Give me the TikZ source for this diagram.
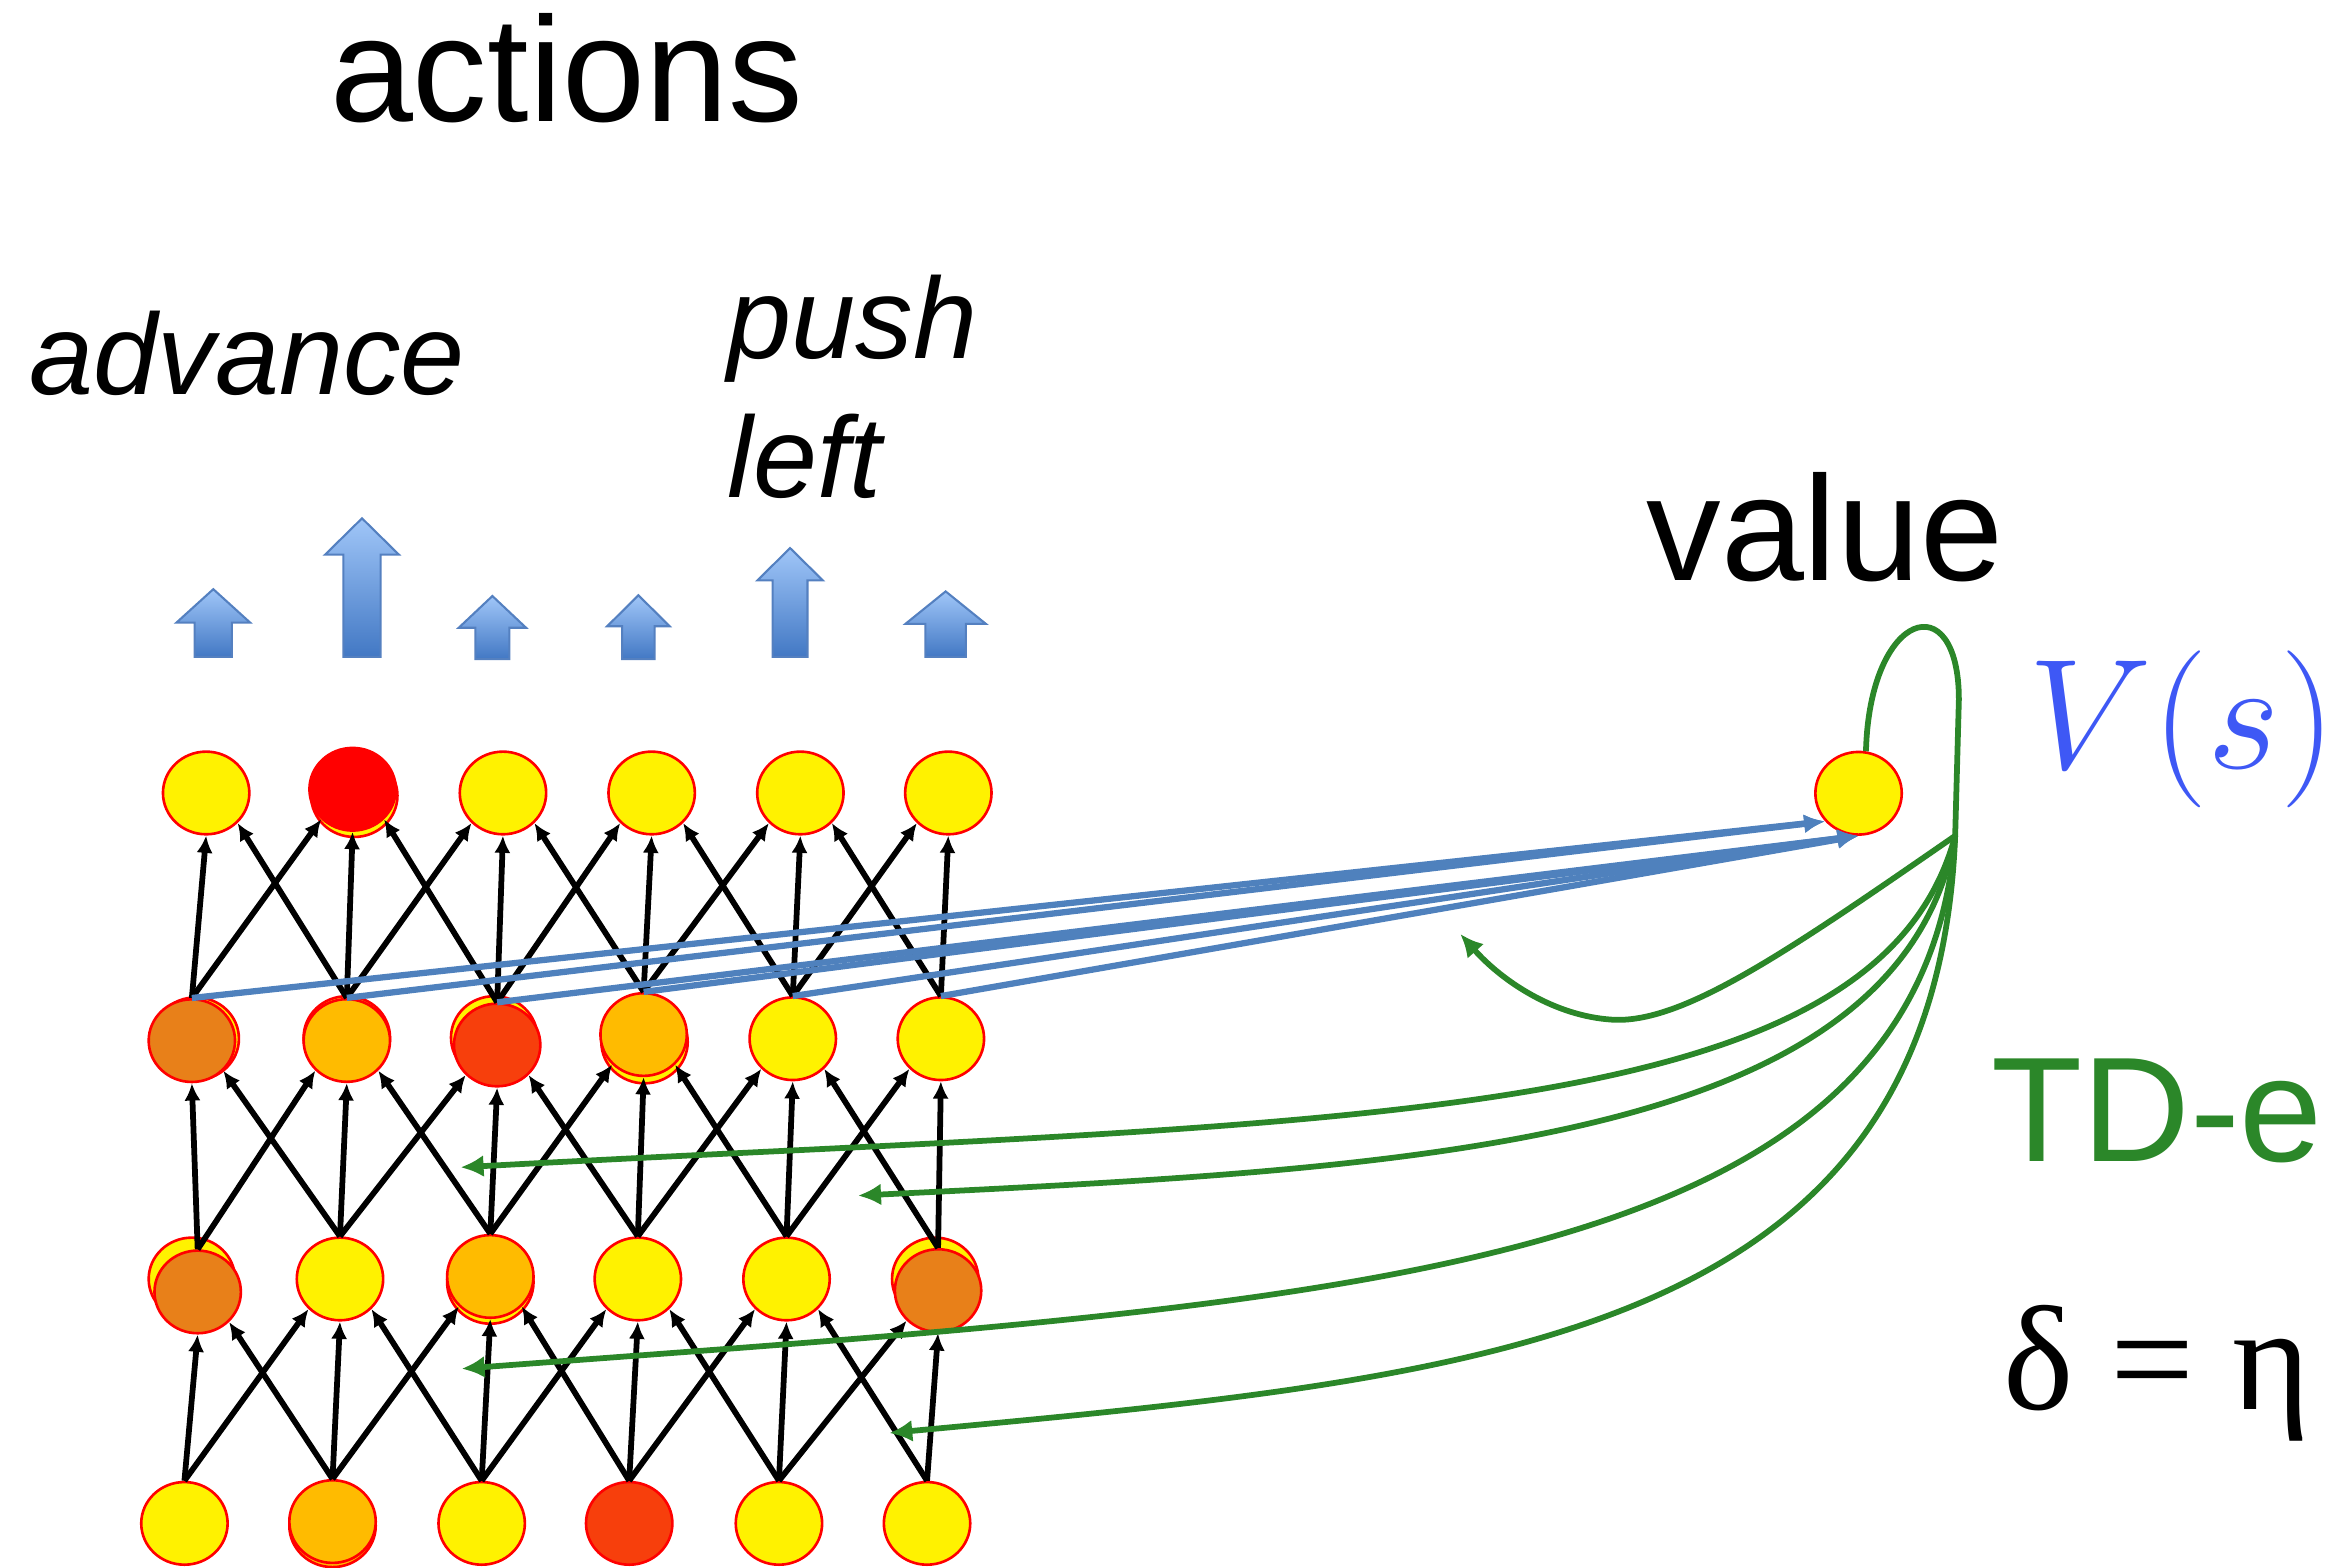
\RequirePackage{fix-cm}
\documentclass[tikz,border=0pt]{standalone}
\usepackage{fontspec}
\setmainfont{Liberation Sans}
\newfontfamily\greekserif{Liberation Serif}
\usepackage{tikz}
\usetikzlibrary{arrows.meta}
\usetikzlibrary{shapes.geometric}
\definecolor{warmorange}{RGB}{255,187,0}
\definecolor{burntorange}{RGB}{232,128,25}
\definecolor{hotred}{RGB}{247,63,12}
\definecolor{feedblue}{RGB}{79,129,189}
\definecolor{tdgreen}{RGB}{43,135,41}
\definecolor{vsblue}{RGB}{62,88,245}
\definecolor{arrowtop}{RGB}{160,198,248}
\definecolor{arrowbot}{RGB}{66,120,196}
\definecolor{arrowedge}{RGB}{84,128,192}
\tikzset{
  cell/.style   = {ellipse, draw=red, line width=0.5pt, fill=yellow, minimum width=0.58cm, minimum height=0.555cm, inner sep=0pt},
  warm/.style   = {cell, fill=warmorange},
  burnt/.style  = {cell, fill=burntorange},
  hot/.style    = {cell, fill=hotred},
  fire/.style   = {cell, fill=red},
  link/.style   = {->, line width=1.1pt},
  feed/.style   = {-{Latex[length=4pt,width=3.6pt]}, draw=feedblue, line width=1.2pt},
  tdline/.style = {draw=tdgreen, line width=1.1pt},
  tderr/.style  = {tdline, -{Latex[length=4.4pt,width=4.2pt]}},
  actarrow/.style = {draw=arrowedge, line width=0.4pt, top color=arrowtop, bottom color=arrowbot},
  word/.style   = {inner sep=0pt, anchor=base, font=\fontsize{28.5}{34}\selectfont},
  slant/.style  = {inner sep=0pt, anchor=base west, font=\fontsize{22}{26}\selectfont\itshape},
}

\begin{document}
\begin{tikzpicture}[x=0.01cm, y=-0.01cm, >={Latex[length=3.3pt,width=3.1pt]}]
    \useasboundingbox (0,0) rectangle (1568,1053);

    \node [word] (actions) at (380.5,81.8) {actions};
    \node [slant, anchor=base] (advance) at (166.2,264.7) {advance};
    \node [slant] (push) at (488,240.6) {push};
    \node [slant] (leftword) at (488,334.2) {left};
    \node [word] (value) at (1225.9,390.1) {value};
    \node [word, anchor=base west, text=vsblue, font=\fontsize{30}{36}\selectfont] (vs) at (1362,516.6) {$V(s)$};
    \node [word, anchor=base west, text=tdgreen] (tde) at (1337,780) {TD-e};
    \node [word, anchor=base west, font=\greekserif\fontsize{28.5}{34}\selectfont] (delta) at (1345,947.2) {δ = η};

    \foreach \px/\tip/\neck/\foot/\head/\shaft in {143.3/395.8/418.3/441.3/24.8/12.5, 243.2/348.2/372.6/441.3/24.8/12.5,
        330.8/400.4/421.7/442.8/22.6/11.4, 428.9/399.9/420.7/442.8/21/10.9,
        530.8/368.2/389.9/441.3/22/11.7, 635.3/397.3/419.1/441.3/27/13.6}
      \draw [actarrow] (\px,\tip) -- (\px+\head,\neck) -- (\px+\shaft,\neck) -- (\px+\shaft,\foot)
        -- (\px-\shaft,\foot) -- (\px-\shaft,\neck) -- (\px-\head,\neck) -- cycle;

    \foreach \i/\x in {1/138.5, 3/337.9, 4/437.8, 5/537.7, 6/637.1}
      \node [cell] (act\i) at (\x,532.7) {};
    \node [cell] (act2u) at (238,534.5) {};
    \node [fire] (act2) at (236.9,530.2) {};

    \node [cell] (hidA1u) at (131.5,697.8) {};
    \node [burnt] (hidA1) at (128.9,699.1) {};
    \node [cell] (hidA2u) at (233,697) {};
    \node [warm] (hidA2) at (233,699) {};
    \node [cell] (hidA3u) at (332,697) {};
    \node [hot] (hidA3) at (334,702) {};
    \node [cell] (hidA4u) at (433,700) {};
    \node [warm] (hidA4) at (432.4,695) {};
    \node [cell] (hidA5) at (532.6,697.8) {};
    \node [cell] (hidA6) at (632.1,697.8) {};

    \node [cell] (hidB1u) at (128.9,859.2) {};
    \node [burnt] (hidB1) at (132.8,867.9) {};
    \node [cell] (hidB2) at (228.4,859.2) {};
    \node [cell] (hidB3u) at (329.4,861.5) {};
    \node [warm] (hidB3) at (329.4,857.5) {};
    \node [cell] (hidB4) at (428.5,859.2) {};
    \node [cell] (hidB5) at (528.4,859.2) {};
    \node [cell] (hidB6u) at (628.3,859.2) {};
    \node [burnt] (hidB6) at (630.2,867) {};

    \node [cell] (inp1) at (123.9,1023.4) {};
    \node [warm] (inp2u) at (223.4,1025) {};
    \node [warm] (inp2) at (223.4,1022.2) {};
    \node [cell] (inp3) at (323.6,1023.4) {};
    \node [hot] (inp4) at (422.7,1023.4) {};
    \node [cell] (inp5) at (523.3,1023.4) {};
    \node [cell] (inp6) at (622.8,1023.4) {};

    \node [cell] (val) at (1248.6,532.9) {};

    \foreach \lo/\hi in {inp/hidB, hidB/hidA, hidA/act} {
      \foreach \i in {1,...,6}
        \draw [link] (\lo\i.north) -- (\hi\i.south);
      \foreach \i [evaluate=\i as \j using int(\i+1)] in {1,...,5} {
        \draw [link] (\lo\i.north) -- (\hi\j.south west);
        \draw [link] (\lo\j.north) -- (\hi\i.south east);
      }
    }

    \foreach \i in {1,2}
      \draw [feed] (hidA\i.north) -- (val.220);
    \foreach \i in {3,...,6}
      \draw [feed] (hidA\i.north) -- (val.south);

    \coordinate (td) at (1313.5,561.5);
    \coordinate (back) at (981,627.4);
    \coordinate (gapA) at (309.4,784.2);
    \coordinate (gapB) at (576.4,803.2);
    \coordinate (gapC) at (310.1,919.5);
    \coordinate (gapD) at (597.4,962.7);

    \draw [tdline] (val.80) .. controls (1256,410) and (1316,392) .. (1316,470) -- (td);
    \draw [tderr] (td) .. controls (1200,640) and (1130,688) .. (1083,685)
      .. controls (1045,682.6) and (1010,660) .. (back);
    \draw [tderr] (td) .. controls (1260,760) and (900,752) .. (gapA);
    \draw [tderr] (td) .. controls (1275,770) and (950,785) .. (gapB);
    \draw [tderr] (td) .. controls (1290,860) and (900,875) .. (gapC);
    \draw [tderr] (td) .. controls (1300,900) and (1000,925) .. (gapD);
\end{tikzpicture}
\end{document}
